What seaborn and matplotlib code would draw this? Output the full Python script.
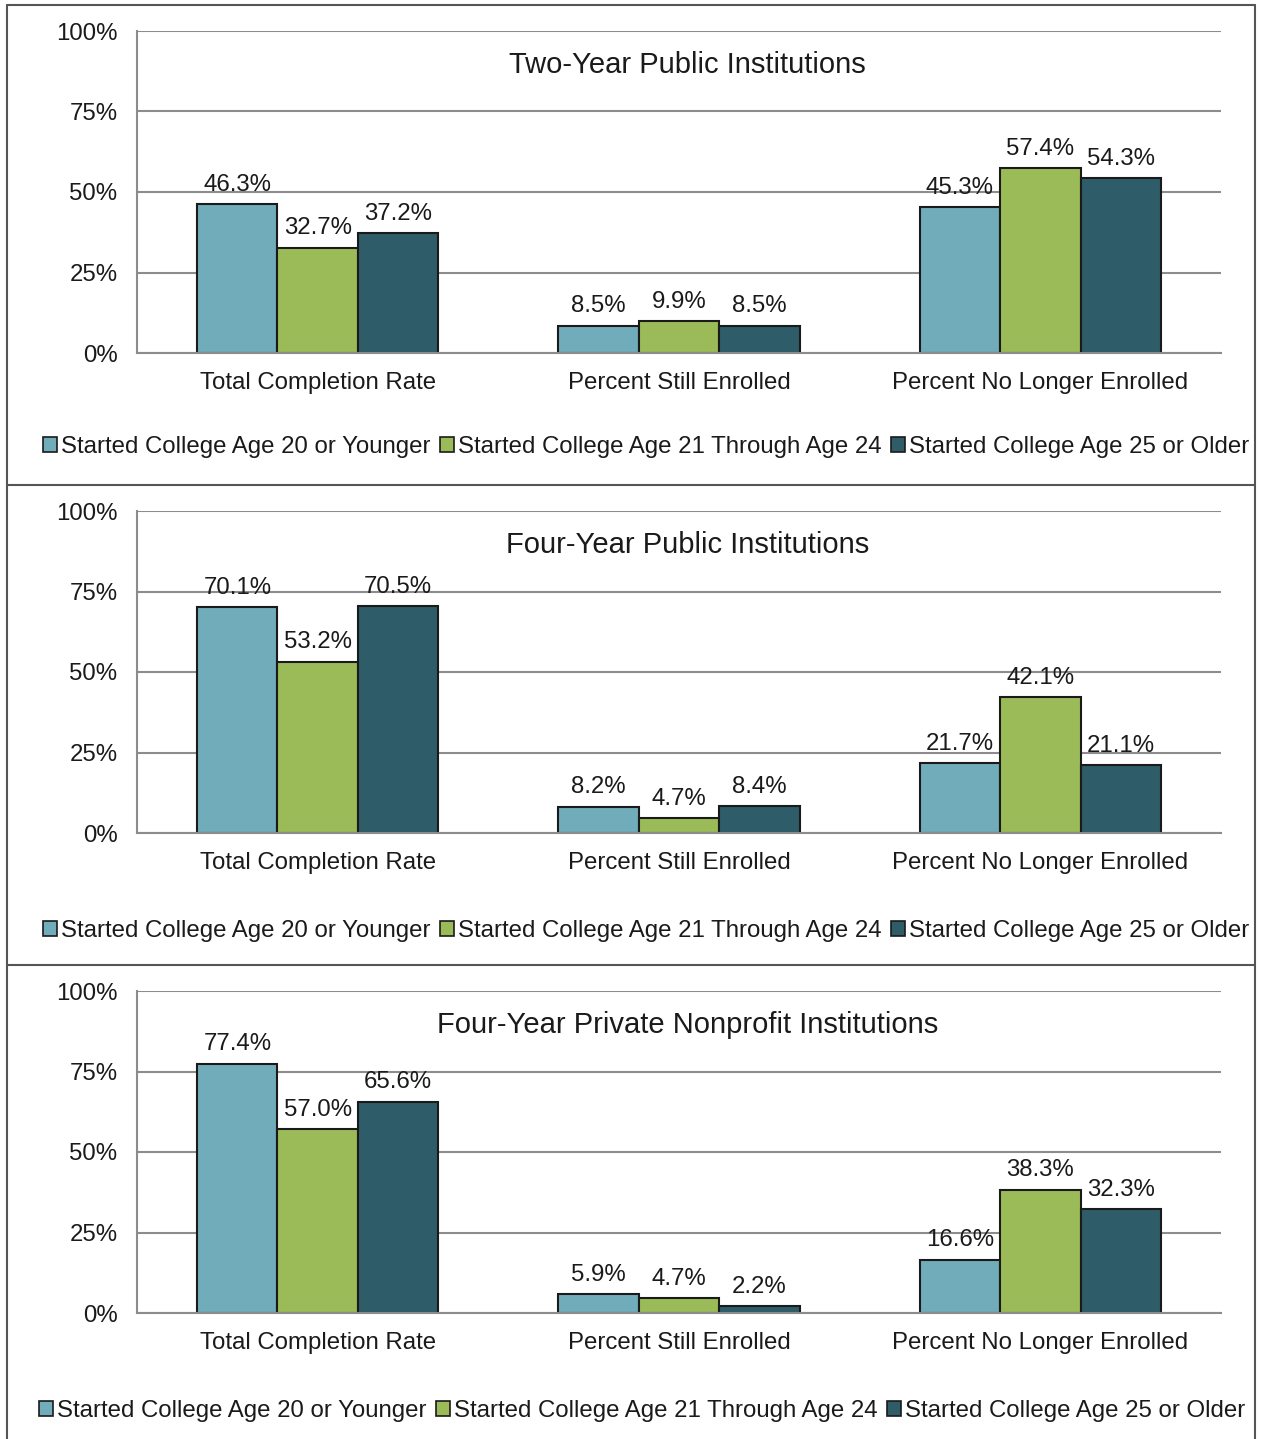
import pandas as pd
import seaborn as sns
from matplotlib import pyplot as plt
from matplotlib.patches import Patch
from matplotlib.lines import Line2D
from matplotlib.ticker import FuncFormatter, FixedLocator

# data
measures = ["Total Completion Rate", "Percent Still Enrolled", "Percent No Longer Enrolled"]
groups = ["Started College Age 20 or Younger",
          "Started College Age 21 Through Age 24",
          "Started College Age 25 or Older"]
titles = ["Two-Year Public Institutions",
          "Four-Year Public Institutions",
          "Four-Year Private Nonprofit Institutions"]

two_year_public = [[46.3, 8.5, 45.3], [32.7, 9.9, 57.4], [37.2, 8.5, 54.3]]
four_year_public = [[70.1, 8.2, 21.7], [53.2, 4.7, 42.1], [70.5, 8.4, 21.1]]
four_year_private = [[77.4, 5.9, 16.6], [57.0, 4.7, 38.3], [65.6, 2.2, 32.3]]
panels = [two_year_public, four_year_public, four_year_private]

colors = ["#71ACBA", "#9BBB59", "#2E5C68"]
yticks = [0, 25, 50, 75, 100]

sns.set_style("white")
plt.rcParams['font.family'] = ['Liberation Sans', 'DejaVu Sans']
plt.rcParams['text.color'] = '#1a1a1a'
plt.rcParams['xtick.color'] = '#1a1a1a'
plt.rcParams['ytick.color'] = '#1a1a1a'

W, H = 1261, 1439
fig = plt.figure(figsize=(W / 100, H / 100), dpi=100)

grid_col = "#8c8c8c"
fs = 17.3
legend_pos = [(646, 447), (646, 931), (642, 1411)]

for k, (vals, title) in enumerate(zip(panels, titles)):
    rows = []
    for g, series in zip(groups, vals):
        for m, v in zip(measures, series):
            rows.append({"measure": m, "group": g, "value": v})
    df = pd.DataFrame(rows)

    top = 31 + 480 * k
    bottom = 353 + 480 * k
    ax = fig.add_axes([137 / W, 1 - bottom / H, 1084 / W, (bottom - top) / H])
    sns.barplot(data=df, x="measure", y="value", hue="group", order=measures,
                hue_order=groups, palette=colors, saturation=1, width=0.667,
                edgecolor="#1a1a1a", linewidth=1.5, legend=False, ax=ax)
    for c in ax.containers:
        ax.bar_label(c, labels=[f"{v:.1f}%" for v in c.datavalues], padding=6, fontsize=fs)

    ax.set_ylim(0, 100)
    ax.set_xlim(-0.5, 2.5)
    ax.set_yticks(yticks)
    ax.yaxis.set_major_formatter(FuncFormatter(lambda v, p: f"{int(v)}%"))
    ax.yaxis.grid(True, color=grid_col, linewidth=1.5)
    ax.set_axisbelow(True)
    ax.set_xlabel("")
    ax.set_ylabel("")
    for s in ["top", "right"]:
        ax.spines[s].set_visible(False)
    for s in ["left", "bottom"]:
        ax.spines[s].set_color(grid_col)
        ax.spines[s].set_linewidth(1.5)
    ax.tick_params(axis="y", length=7, color=grid_col, width=1.5, labelsize=fs, pad=7)
    ax.tick_params(axis="x", which="major", length=0, labelsize=fs, pad=14)
    ax.xaxis.set_minor_locator(FixedLocator([-0.5, 0.5, 1.5, 2.5]))
    ax.tick_params(axis="x", which="minor", length=7, color=grid_col, width=1.5, direction="out")
    ax.text(0.508, 0.895, title, transform=ax.transAxes, ha="center", va="center", fontsize=21)

    handles = [Patch(facecolor=c, edgecolor="#1a1a1a", linewidth=1.2) for c in colors]
    lx, ly = legend_pos[k]
    fig.legend(handles, groups, loc="center", ncol=3, frameon=False, fontsize=fs,
               bbox_to_anchor=(lx / W, 1 - ly / H),
               handlelength=0.6, handleheight=0.6, handletextpad=0.15, columnspacing=0.4)

# panel frames
frame_col = "#555555"
def fline(x0, y0, x1, y1):
    fig.add_artist(Line2D([x0 / W, x1 / W], [1 - y0 / H, 1 - y1 / H], color=frame_col, linewidth=1.5))

fline(7, 5, 1255, 5)
fline(7, 5, 7, H)
fline(1255, 5, 1255, H)
fline(7, 485, 1255, 485)
fline(7, 965, 1255, 965)

plt.savefig("out.png", dpi=100)
